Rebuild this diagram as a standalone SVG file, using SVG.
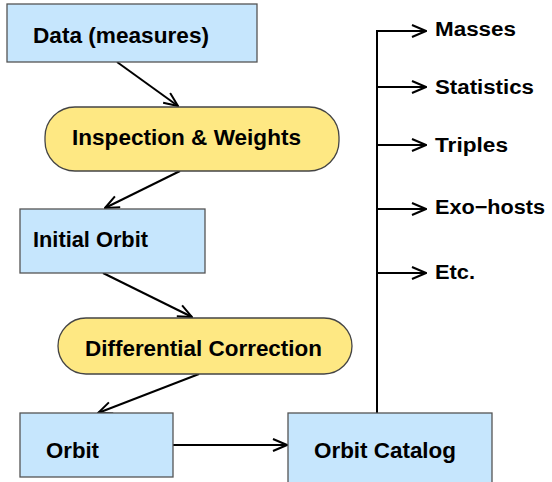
<svg xmlns="http://www.w3.org/2000/svg" width="552" height="482" viewBox="0 0 552 482">
<defs>
<marker id="arr" markerUnits="userSpaceOnUse" markerWidth="16" markerHeight="14" viewBox="0 0 16 14" refX="15" refY="7" orient="auto">
<path d="M1,1 L15,7 L1,13" fill="none" stroke="#000" stroke-width="2"/>
</marker>
</defs>
<style>
.box{fill:#c6e6fd;stroke:#555;stroke-width:1.3}
.pill{fill:#fee883;stroke:#444;stroke-width:1.3}
text{font-family:"Liberation Sans",Arial,sans-serif;font-weight:bold;font-size:22px;fill:#000}
.r{font-size:20px}
.c{fill:none;stroke:#000;stroke-width:2}
</style>
<rect width="552" height="482" fill="#fff"/>
<g id="connectors">
<line class="c" x1="117" y1="62" x2="178" y2="106" marker-end="url(#arr)"/>
<line class="c" x1="180" y1="171" x2="105" y2="208" marker-end="url(#arr)"/>
<line class="c" x1="103" y1="273" x2="192" y2="317" marker-end="url(#arr)"/>
<line class="c" x1="199" y1="374" x2="98" y2="413" marker-end="url(#arr)"/>
<line class="c" x1="173" y1="445" x2="287" y2="445" marker-end="url(#arr)"/>
<polyline class="c" points="377,413 377,31 426,31" marker-end="url(#arr)"/>
<line class="c" x1="377" y1="87" x2="426" y2="87" marker-end="url(#arr)"/>
<line class="c" x1="377" y1="145" x2="426" y2="145" marker-end="url(#arr)"/>
<line class="c" x1="377" y1="209" x2="426" y2="209" marker-end="url(#arr)"/>
<line class="c" x1="377" y1="273" x2="426" y2="273" marker-end="url(#arr)"/>
</g>
<g id="data"><rect class="box" x="7" y="4" width="250" height="58"/><text x="33" y="43" textLength="176" lengthAdjust="spacingAndGlyphs">Data (measures)</text></g>
<g id="inspection"><rect class="pill" x="45" y="107" width="294" height="64" rx="30"/><text x="72" y="145" textLength="229" lengthAdjust="spacingAndGlyphs">Inspection &amp; Weights</text></g>
<g id="initial"><rect class="box" x="20" y="209" width="185" height="64"/><text x="33" y="247" textLength="115" lengthAdjust="spacingAndGlyphs">Initial Orbit</text></g>
<g id="differential"><rect class="pill" x="58" y="318" width="294" height="56" rx="28"/><text x="85" y="356" textLength="237" lengthAdjust="spacingAndGlyphs">Differential Correction</text></g>
<g id="orbit"><rect class="box" x="20" y="413" width="153" height="64"/><text x="46" y="458" textLength="53" lengthAdjust="spacingAndGlyphs">Orbit</text></g>
<g id="catalog"><rect class="box" x="288" y="413" width="204" height="72"/><text x="314" y="458" textLength="142" lengthAdjust="spacingAndGlyphs">Orbit Catalog</text></g>
<g id="masses"><text class="r" x="435" y="36" textLength="81" lengthAdjust="spacingAndGlyphs">Masses</text></g>
<g id="statistics"><text class="r" x="435" y="94" textLength="99" lengthAdjust="spacingAndGlyphs">Statistics</text></g>
<g id="triples"><text class="r" x="435" y="152" textLength="73" lengthAdjust="spacingAndGlyphs">Triples</text></g>
<g id="exohosts"><text class="r" x="435" y="214" textLength="110" lengthAdjust="spacingAndGlyphs">Exo−hosts</text></g>
<g id="etc"><text class="r" x="435" y="279" textLength="40" lengthAdjust="spacingAndGlyphs">Etc.</text></g>
</svg>
